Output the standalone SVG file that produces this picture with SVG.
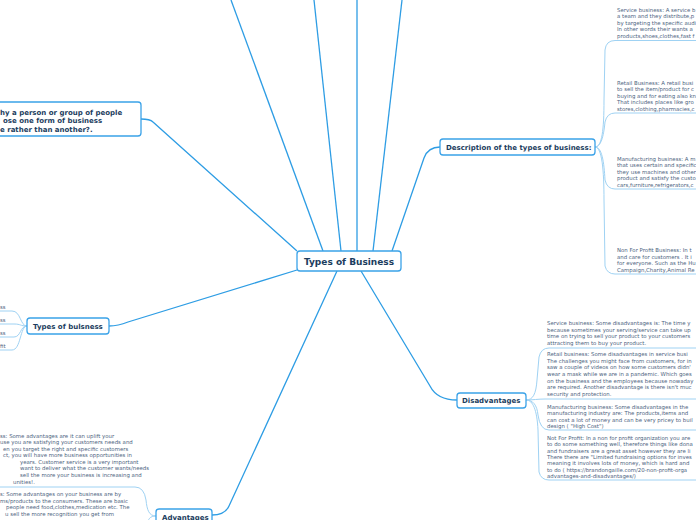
<svg xmlns="http://www.w3.org/2000/svg" width="696" height="520" viewBox="0 0 696 520">
<style>
.main{fill:none;stroke:#2e9de4;stroke-width:1.3}
.leafc{fill:none;stroke:#9fd2f3;stroke-width:1}
.box{fill:#fff;stroke:#3aa2e8;stroke-width:1.3}
.nt{font-family:"DejaVu Sans",Verdana,sans-serif;font-weight:bold;font-size:7px;fill:#1c3d5e}
.ct{font-family:"DejaVu Sans",Verdana,sans-serif;font-weight:bold;font-size:9px;fill:#1c3d5e}
.lt{font-family:"DejaVu Sans",Verdana,sans-serif;font-size:5.4px;fill:#4d6480}
</style>
<rect width="696" height="520" fill="#fff"/>
<g id="connectors">
<path class="main" d="M323,251 L231,0"/>
<path class="main" d="M341,251 L314,0"/>
<path class="main" d="M357,251 L357,0"/>
<path class="main" d="M373,251 L402,0"/>
<path class="main" d="M297,251 L153,122 Q150,119 141,119"/>
<path class="main" d="M392,251 L424,158 Q428,147 440,147"/>
<path class="main" d="M297,270 L128,322 Q118,326 109,326"/>
<path class="main" d="M337,271 L229,506 Q225,515 212,515"/>
<path class="main" d="M361,271 L430,386 Q437,400 457,400"/>
<path class="leafc" d="M595,147 C602,147 604,130 604,100 L605,50 Q606,40.5 615,40.5 H696"/>
<path class="leafc" d="M595,147 C602,147 604,132 605,122 Q607,113 615,113 H696"/>
<path class="leafc" d="M595,147 C602,147 604,162 605,180 Q607,189 615,189 H696"/>
<path class="leafc" d="M595,147 C602,147 604,170 604,200 L605,266 Q607,274 615,274 H696"/>
<path class="leafc" d="M526,400 C533,400 536,394 537,380 L539,357 Q541,348 549,348 H696"/>
<path class="leafc" d="M526,400 C533,400 538,399 545,399 H696"/>
<path class="leafc" d="M526,400 C533,400 537,405 538,415 Q540,430 549,430 H696"/>
<path class="leafc" d="M526,400 C533,400 537,410 538,430 L539,472 Q541,480 549,480 H696"/>
<path class="leafc" d="M156,516 C149,516 147,510 146,500 Q144,487 135,487 H0"/>
<path class="leafc" d="M156,516 C150,516 148,519 147,525"/>
<path class="leafc" d="M27,326 C20,326 21,311 12,311 H0"/>
<path class="leafc" d="M27,326 C20,326 21,324 14,324 H0"/>
<path class="leafc" d="M27,326 C20,326 21,337 14,337 H0"/>
<path class="leafc" d="M27,326 C20,326 21,350 12,350 H0"/>
</g>
<g id="central">
<rect class="box" x="297" y="251" width="104" height="20" rx="3"/>
<text class="ct" x="349" y="264.5" text-anchor="middle">Types of Business</text>
</g>
<g id="why">
<rect class="box" x="-10" y="102" width="151" height="34" rx="3"/>
<text class="nt" x="0" y="114.5">hy a person or group of people</text>
<text class="nt" x="3" y="123">ose one form of business</text>
<text class="nt" x="0" y="131.5">e rather than another?.</text>
</g>
<g id="description">
<rect class="box" x="440" y="139" width="155" height="16" rx="3"/>
<text class="nt" x="446" y="150">Description of the types of business:</text>
</g>
<g id="types">
<rect class="box" x="27" y="318" width="82" height="16" rx="3"/>
<text class="nt" x="33" y="328.5">Types of bulsness</text>
</g>
<g id="advantages">
<rect class="box" x="156" y="509" width="56" height="16" rx="3"/>
<text class="nt" x="162" y="519.5">Advantages</text>
</g>
<g id="disadvantages">
<rect class="box" x="457" y="393" width="69" height="15" rx="3"/>
<text class="nt" x="462" y="403">Disadvantages</text>
</g>
<g id="desc-service">
<text class="lt" x="617" y="11.8">Service business: A service b</text>
<text class="lt" x="617" y="18.3">a team and they distribute,p</text>
<text class="lt" x="617" y="24.8">by targeting the specific audi</text>
<text class="lt" x="617" y="31.3">In other words their wants a</text>
<text class="lt" x="617" y="37.8">products,shoes,clothes,fast f</text>
</g>
<g id="desc-retail">
<text class="lt" x="617" y="84.8">Retail Business: A retail busi</text>
<text class="lt" x="617" y="91.3">to sell the item/product for c</text>
<text class="lt" x="617" y="97.8">buying and for eating also kn</text>
<text class="lt" x="617" y="104.3">That includes places like gro</text>
<text class="lt" x="617" y="110.8">stores,clothing,pharmacies,c</text>
</g>
<g id="desc-manufacturing">
<text class="lt" x="617" y="160.8">Manufacturing business: A m</text>
<text class="lt" x="617" y="167.3">that uses certain and specific</text>
<text class="lt" x="617" y="173.8">they use machines and other</text>
<text class="lt" x="617" y="180.3">product and satisfy the custo</text>
<text class="lt" x="617" y="186.8">cars,furniture,refrigerators,c</text>
</g>
<g id="desc-nonprofit">
<text class="lt" x="617" y="252.3">Non For Profit Business: In t</text>
<text class="lt" x="617" y="258.8">and care for customers . It i</text>
<text class="lt" x="617" y="265.3">for everyone. Such as the Hu</text>
<text class="lt" x="617" y="271.8">Campaign,Charity,Animal Re</text>
</g>
<g id="dis-service">
<text class="lt" x="547" y="325">Service business: Some disadvantages is:  The  time y</text>
<text class="lt" x="547" y="331.5">because sometimes  your serving/service can take up</text>
<text class="lt" x="547" y="338">time on trying to sell your product to your customers</text>
<text class="lt" x="547" y="344.5">attracting them to buy your product.</text>
</g>
<g id="dis-retail">
<text class="lt" x="547" y="356.2">Retail business:  Some disadvantages in service busi</text>
<text class="lt" x="547" y="362.8">The challenges you might face from customers, for in</text>
<text class="lt" x="547" y="369.4">saw a couple of videos on  how some customers didn'</text>
<text class="lt" x="547" y="376">wear a mask while we are in a pandemic. Which goes</text>
<text class="lt" x="547" y="382.6">on the business and the employees because nowaday</text>
<text class="lt" x="547" y="389.2">are required. Another disadvantage is there isn't muc</text>
<text class="lt" x="547" y="395.8">security and protection.</text>
</g>
<g id="dis-manufacturing">
<text class="lt" x="547" y="408.5">Manufacturing business: Some disadvantages in the</text>
<text class="lt" x="547" y="415">manufacturing  industry are: The products,items and</text>
<text class="lt" x="547" y="421.5">can cost a lot of money and can be very pricey to buil</text>
<text class="lt" x="547" y="428">design ( "High Cost")</text>
</g>
<g id="dis-nonprofit">
<text class="lt" x="547" y="440">Not For Profit: In a non for profit organization you are</text>
<text class="lt" x="547" y="446.3">to do some something well, therefore things like dona</text>
<text class="lt" x="547" y="452.6">and fundraisers are a great asset however they are li</text>
<text class="lt" x="547" y="458.9">There there are "Limited fundraising options for inves</text>
<text class="lt" x="547" y="465.2">meaning it involves lots of money, which is hard and</text>
<text class="lt" x="547" y="471.5">to do ( https://brandongaille.com/20-non-profit-orga</text>
<text class="lt" x="547" y="477.8">advantages-and-disadvantages/)</text>
</g>
<g id="types-leaves">
<text class="lt" x="0" y="308.5">ss</text>
<text class="lt" x="0" y="321.8">ss</text>
<text class="lt" x="0" y="334.5">ss</text>
<text class="lt" x="0" y="347.8">fit</text>
</g>
<g id="adv-service">
<text class="lt" x="0" y="437.5">ss: Some advantages are it can uplift your</text>
<text class="lt" x="0" y="444">use you are satisfying your customers needs and</text>
<text class="lt" x="3" y="450.6">en you target the right and specific customers</text>
<text class="lt" x="3" y="457.2">ct, you will have more business opportunities in</text>
<text class="lt" x="20" y="463.8">years. Customer service is a very important</text>
<text class="lt" x="20" y="470.4">want to deliver what the customer wants/needs</text>
<text class="lt" x="20" y="477">sell the more your business is increasing and</text>
<text class="lt" x="13" y="483.6">unities!.</text>
</g>
<g id="adv-retail">
<text class="lt" x="0" y="496">s: Some advantages on your business are by</text>
<text class="lt" x="0" y="502.6">ms/products to the consumers. These are basic</text>
<text class="lt" x="6" y="509.2">people need food,clothes,medication etc. The</text>
<text class="lt" x="5" y="515.8">u sell the more recognition you get from</text>
</g>
</svg>
